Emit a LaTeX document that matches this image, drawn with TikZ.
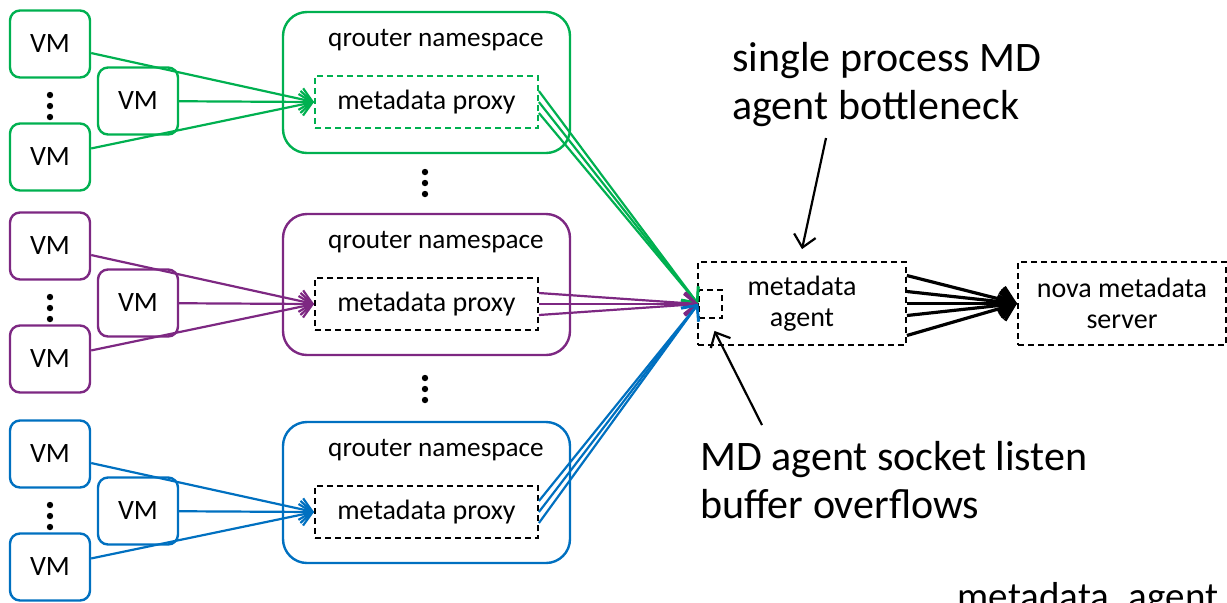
\documentclass[tikz,border=0pt]{standalone}
\usepackage{fontspec}
\setmainfont{Carlito}
\usetikzlibrary{calc}
\usetikzlibrary{arrows.meta}
\definecolor{mdgreen}{RGB}{0,176,80}
\definecolor{mdpurple}{RGB}{125,40,130}
\definecolor{mdblue}{RGB}{0,112,192}
\tikzset{
 vmbox/.style={draw, line width=1.2pt, rounded corners=5pt, minimum width=40pt, minimum height=33.5pt, font=\fontsize{14}{16}\selectfont},
 nsbox/.style={draw, line width=1.2pt, rounded corners=12pt, minimum width=143.5pt, minimum height=70.5pt},
 dbox/.style={draw, line width=0.9pt, dash pattern=on 3pt off 2pt, font=\fontsize{14}{15.5}\selectfont, align=center},
 lbl/.style={font=\fontsize{13.6}{15}\selectfont, inner sep=0pt},
 biglbl/.style={font=\fontsize{21}{24}\selectfont, inner sep=0pt, align=left},
 barb/.style={line width=1.1pt, -{Straight Barb[length=6pt,width=11pt]}},
 bigbarb/.style={line width=1.6pt, -{Straight Barb[length=7pt,width=13pt]}},
}
\begin{document}
\begin{tikzpicture}[x=0.5pt,y=-0.5pt]
\useasboundingbox (0,0) rectangle (1227,602);
% metadata agent and nova server
\node[dbox, minimum width=104pt, minimum height=41.5pt] (agent) at (802,303.5) {metadata\\agent};
\node[dbox, minimum width=11.5pt, minimum height=14pt, inner sep=0pt] (sock) at (710.5,304) {};
\node[dbox, minimum width=104pt, minimum height=41.5pt] (nova) at (1122,303.5) {nova metadata\\server};
\foreach \o in {-28,-12,0,12,32}
 \draw[bigbarb] ($(agent.east)+(0,\o)$) -- (nova.west);
% the three routers
\foreach \g/\col/\pcol/\dy in {1/mdgreen/mdgreen/0,2/mdpurple/black/202,3/mdblue/black/410} {
 \node[nsbox, draw=\col] (ns\g) at (426.5,{82.5+\dy}) {};
 \node[lbl] (nslbl\g) at (436,{40+\dy}) {qrouter namespace};
 \node[dbox, draw=\pcol, minimum width=111.5pt, minimum height=26pt] (px\g) at (426.5,{102+\dy}) {metadata proxy};
 \node[vmbox, draw=\col] (vmt\g) at (50,{44+\dy}) {VM};
 \node[vmbox, draw=\col] (vmm\g) at (138,{101+\dy}) {VM};
 \node[vmbox, draw=\col] (vmb\g) at (50,{157+\dy}) {VM};
 \foreach \d in {95,106,117}
  \fill (50,{\d+\dy}) circle (1.6pt);
 \draw[barb, \col] (vmt\g) -- (px\g.west);
 \draw[barb, \col] (vmm\g) -- (px\g.west);
 \draw[barb, \col] (vmb\g) -- (px\g.west);
 \foreach \o in {-11,0,11}
  \draw[barb, \col] ($(px\g.east)+(0,\o)$) -- (sock.west);
}
% dots between routers
\foreach \d in {172,183,194,378,389,400}
 \fill (425,\d) circle (1.6pt);
% notes
\node[biglbl, anchor=north west] (bneck) at (732,42) {single process MD\\agent bottleneck};
\node[biglbl, anchor=north west] (ovflow) at (700,441) {MD agent socket listen\\buffer overflows};
\node[biglbl, anchor=base, font=\fontsize{19.5}{22}\selectfont] (mdagent) at (1088,609) {metadata\_agent};
\coordinate (bnk) at (826,138);
\coordinate (ovf) at (762,425);
\draw[barb] (bnk) -- ($(agent.north)+(0,-12)$);
\draw[barb] (ovf) -- ($(sock.south)+(4,12)$);
\end{tikzpicture}
\end{document}
